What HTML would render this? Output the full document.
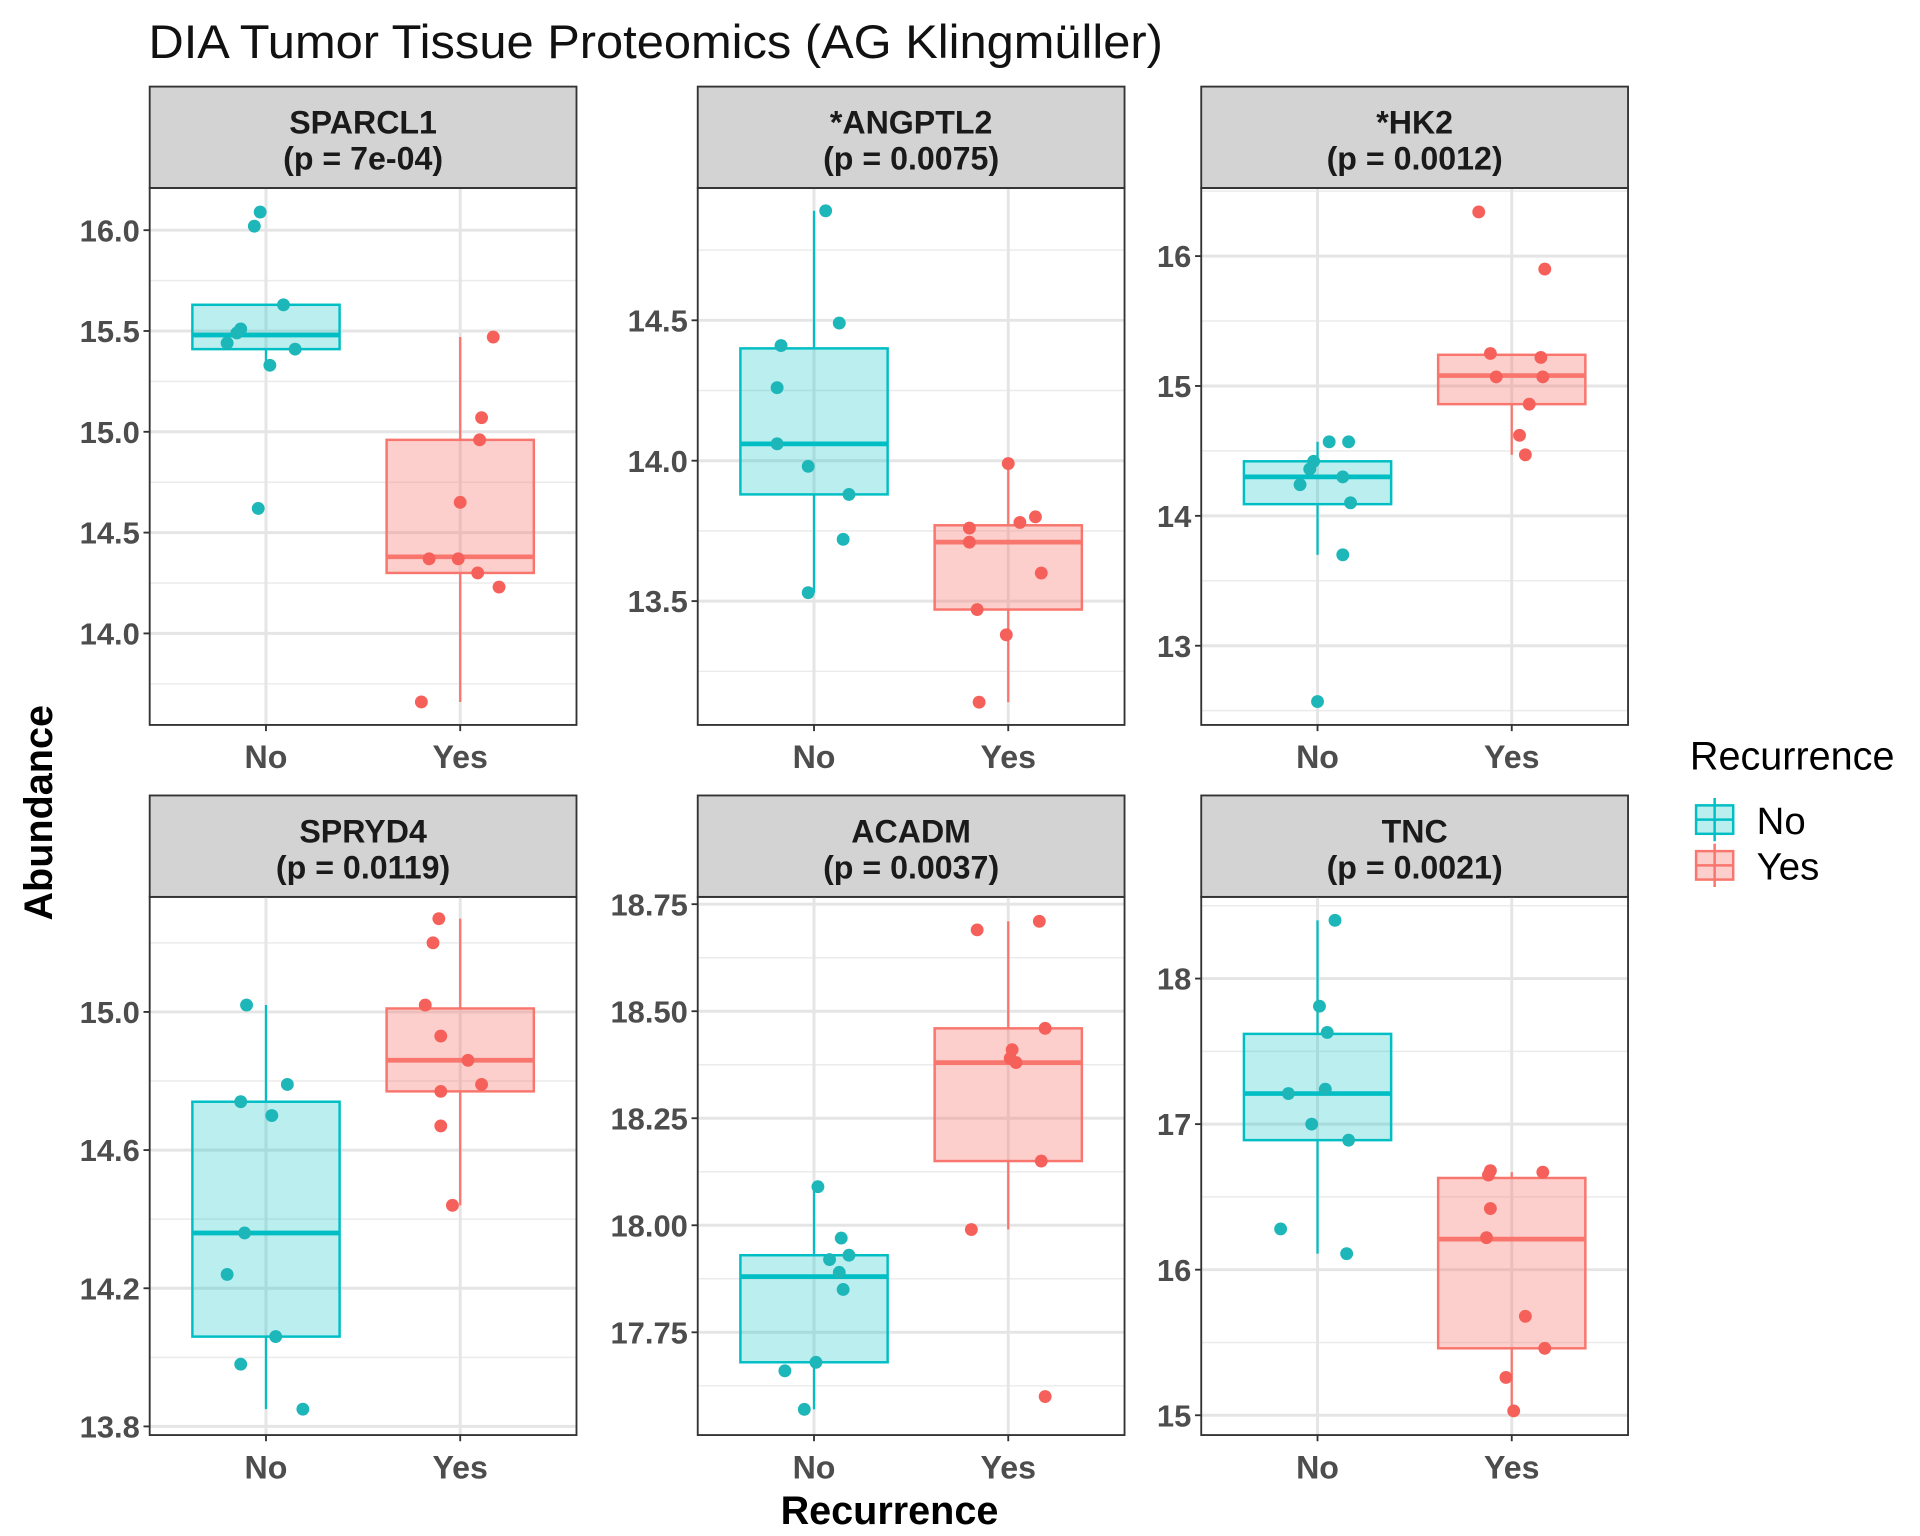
<!DOCTYPE html>
<html><head><meta charset="utf-8"><style>
html,body{margin:0;padding:0;background:#fff;}
svg{display:block;font-family:"Liberation Sans",Arial,sans-serif;}
</style></head><body>
<svg id="chart" width="1920" height="1536" viewBox="0 0 1552 1241.6" xmlns="http://www.w3.org/2000/svg">
<rect width="1552" height="1241.6" fill="#fff"/>
<text x="120" y="47" font-size="38" fill="#111" textLength="820" lengthAdjust="spacingAndGlyphs">DIA Tumor Tissue Proteomics (AG Klingmüller)</text>
<text transform="translate(42,657) rotate(-90)" text-anchor="middle" font-size="32" font-weight="bold" fill="#000">Abundance</text>
<text x="719" y="1232" text-anchor="middle" font-size="32" font-weight="bold" fill="#000">Recurrence</text>
<g>
<text x="1366" y="622" font-size="32" fill="#000">Recurrence</text>
<g>
<line x1="1386" y1="645" x2="1386" y2="680" stroke="#00BFC4" stroke-width="2"/>
<rect x="1371" y="651" width="30" height="23" fill="#00BFC4" fill-opacity="0.27" stroke="#00BFC4" stroke-width="2"/>
<line x1="1371" y1="662.5" x2="1401" y2="662.5" stroke="#00BFC4" stroke-width="2"/>
<text x="1420" y="674" font-size="31" fill="#000">No</text></g>
<g>
<line x1="1386" y1="682" x2="1386" y2="717" stroke="#F8766D" stroke-width="2"/>
<rect x="1371" y="688" width="30" height="23" fill="#F8766D" fill-opacity="0.35" stroke="#F8766D" stroke-width="2"/>
<line x1="1371" y1="699.5" x2="1401" y2="699.5" stroke="#F8766D" stroke-width="2"/>
<text x="1420" y="711" font-size="31" fill="#000">Yes</text></g>
</g>
<g id="panels"></g>
</svg>
<script>
const panelNames = ["SPARCL1","*ANGPTL2","*HK2","SPRYD4","ACADM","TNC"];
const panelP = ["(p = 7e-04)","(p = 0.0075)","(p = 0.0012)","(p = 0.0119)","(p = 0.0037)","(p = 0.0021)"];
const categories = ["No","Yes"];
const yDomains = [[13.546,16.209],[13.059,14.971],[12.390,16.524],[13.775,15.333],[17.510,18.767],[14.864,18.561]];
const yTicks = [[14,14.5,15,15.5,16],[13.5,14,14.5],[13,14,15,16],[13.8,14.2,14.6,15.0],[17.75,18,18.25,18.5,18.75],[15,16,17,18]];
const yTickLabels = [["14.0","14.5","15.0","15.5","16.0"],["13.5","14.0","14.5"],["13","14","15","16"],["13.8","14.2","14.6","15.0"],["17.75","18.00","18.25","18.50","18.75"],["15","16","17","18"]];
const valuesNo = [
 [16.09,16.02,15.63,15.51,15.49,15.44,15.41,15.33,14.62],
 [14.89,14.49,14.41,14.26,14.06,13.98,13.88,13.72,13.53],
 [14.57,14.57,14.42,14.36,14.30,14.24,14.10,13.70,12.57],
 [15.02,14.79,14.74,14.70,14.36,14.24,14.06,13.98,13.85],
 [18.09,17.97,17.93,17.92,17.89,17.85,17.68,17.66,17.57],
 [18.40,17.81,17.63,17.24,17.21,17.00,16.89,16.28,16.11]];
const valuesYes = [
 [15.47,15.07,14.96,14.65,14.37,14.37,14.30,14.23,13.66],
 [13.99,13.80,13.78,13.76,13.71,13.60,13.47,13.38,13.14],
 [16.34,15.90,15.25,15.22,15.07,15.07,14.86,14.62,14.47],
 [15.27,15.20,15.02,14.93,14.86,14.79,14.77,14.67,14.44],
 [18.71,18.69,18.46,18.41,18.39,18.38,18.15,17.99,17.60],
 [16.68,16.67,16.65,16.42,16.22,15.68,15.46,15.26,15.03]];
const jitterNo = [
 [-0.03,-0.06,0.09,-0.13,-0.15,-0.20,0.15,0.02,-0.04],
 [0.06,0.13,-0.17,-0.19,-0.19,-0.03,0.18,0.15,-0.03],
 [0.06,0.16,-0.02,-0.04,0.13,-0.09,0.17,0.13,0.00],
 [-0.10,0.11,-0.13,0.03,-0.11,-0.20,0.05,-0.13,0.19],
 [0.02,0.14,0.18,0.08,0.13,0.15,0.01,-0.15,-0.05],
 [0.09,0.01,0.05,0.04,-0.15,-0.03,0.16,-0.19,0.15]];
const jitterYes = [
 [0.17,0.11,0.10,0.00,-0.16,-0.01,0.09,0.20,-0.20],
 [0.00,0.14,0.06,-0.20,-0.20,0.17,-0.16,-0.01,-0.15],
 [-0.17,0.17,-0.11,0.15,-0.08,0.16,0.09,0.04,0.07],
 [-0.11,-0.14,-0.18,-0.10,0.04,0.11,-0.10,-0.10,-0.04],
 [0.16,-0.16,0.19,0.02,0.01,0.04,0.17,-0.19,0.19],
 [-0.11,0.16,-0.12,-0.11,-0.13,0.07,0.17,-0.03,0.01]];
const boxNo = [[15.33,15.41,15.48,15.63,15.63],[13.53,13.88,14.06,14.40,14.89],[13.70,14.09,14.30,14.42,14.57],[13.85,14.06,14.36,14.74,15.02],[17.57,17.68,17.88,17.93,18.09],[16.11,16.89,17.21,17.62,18.40]];
const boxYes = [[13.66,14.30,14.38,14.96,15.47],[13.14,13.47,13.71,13.77,13.99],[14.47,14.86,15.08,15.24,15.24],[14.44,14.77,14.86,15.01,15.27],[17.99,18.15,18.38,18.46,18.71],[15.03,15.46,16.21,16.63,16.67]];

const NS="http://www.w3.org/2000/svg";
const root=document.getElementById('panels');
const colX=[121,564,971], rowStrip=[70,643], rowTop=[152,725], rowBot=[586,1160], PW=345;
const lineCol=["#00BFC4","#F8766D"], ptCol=["#1DB6B9","#F5615A"];
function mk(tag,attrs,parent){const e=document.createElementNS(NS,tag);for(const k in attrs)e.setAttribute(k,attrs[k]);parent.appendChild(e);return e;}
for(let p=0;p<6;p++){
 const x0=colX[p%3], r=Math.floor(p/3), top=rowTop[r], bot=rowBot[r];
 const [d0,d1]=yDomains[p];
 const y=v=>bot-(v-d0)/(d1-d0)*(bot-top);
 const xc=c=>x0+94+c*157;
 const g=mk('g',{},root);
 
 
 const st=mk('rect',{x:x0,y:rowStrip[r],width:PW,height:top-rowStrip[r],fill:'#d3d3d3',stroke:'#333','stroke-width':1.5},g);
 
 
 const t1=mk('text',{x:x0+PW/2,y:rowStrip[r]+38,'text-anchor':'middle','font-size':26,'font-weight':'bold',fill:'#1a1a1a'},g);
 t1.textContent=panelNames[p];
 
 
 const t2=mk('text',{x:x0+PW/2,y:rowStrip[r]+67,'text-anchor':'middle','font-size':26,'font-weight':'bold',fill:'#1a1a1a'},g);
 t2.textContent=panelP[p];
 
 
 const tk=yTicks[p];
 const step=tk[1]-tk[0];
 for(let m=tk[0]-step/2;m<=d1;m+=step){ if(m>=d0) mk('line',{x1:x0,x2:x0+PW,y1:y(m),y2:y(m),stroke:'#ebebeb','stroke-width':1.2},g); }
 tk.forEach((v,i)=>{
  mk('line',{x1:x0,x2:x0+PW,y1:y(v),y2:y(v),stroke:'#e5e5e5','stroke-width':2.4},g);
  mk('line',{x1:x0-5,x2:x0,y1:y(v),y2:y(v),stroke:'#333','stroke-width':1.5},g);
  const lb=mk('text',{x:x0-8,y:y(v)+9,'text-anchor':'end','font-size':25,'font-weight':'bold',fill:'#4d4d4d'},g);
  lb.textContent=yTickLabels[p][i];
  
  
 });
 categories.forEach((c,ci)=>{
  mk('line',{x1:xc(ci),x2:xc(ci),y1:top,y2:bot,stroke:'#e5e5e5','stroke-width':2.4},g);
  mk('line',{x1:xc(ci),x2:xc(ci),y1:bot,y2:bot+5,stroke:'#333','stroke-width':1.5},g);
  const lb=mk('text',{x:xc(ci),y:bot+35,'text-anchor':'middle','font-size':26,'font-weight':'bold',fill:'#4d4d4d'},g);
  lb.textContent=c;
  
  
 });
 [boxNo[p],boxYes[p]].forEach((b,ci)=>{
  const bg=mk('g',{},g);
  
  
  const cx=xc(ci), col=lineCol[ci];
  mk('line',{x1:cx,x2:cx,y1:y(b[4]),y2:y(b[3]),stroke:col,'stroke-width':1.8},bg);
  mk('line',{x1:cx,x2:cx,y1:y(b[1]),y2:y(b[0]),stroke:col,'stroke-width':1.8},bg);
  mk('rect',{x:cx-59.5,y:y(b[3]),width:119,height:y(b[1])-y(b[3]),fill:col,'fill-opacity':ci?0.35:0.27,stroke:col,'stroke-width':2},bg);
  mk('line',{x1:cx-59.5,x2:cx+59.5,y1:y(b[2]),y2:y(b[2]),stroke:col,'stroke-width':3.8},bg);
 });
 [[valuesNo[p],jitterNo[p]],[valuesYes[p],jitterYes[p]]].forEach(([vals,jit],ci)=>{
  vals.forEach((v,i)=>{
   const c=mk('circle',{cx:xc(ci+jit[i]),cy:y(v),r:5.2,fill:ptCol[ci]},g);
   
   
  });
 });
 mk('rect',{x:x0,y:top,width:PW,height:bot-top,fill:'none',stroke:'#333','stroke-width':1.5},g);
}
</script>
</body></html>
